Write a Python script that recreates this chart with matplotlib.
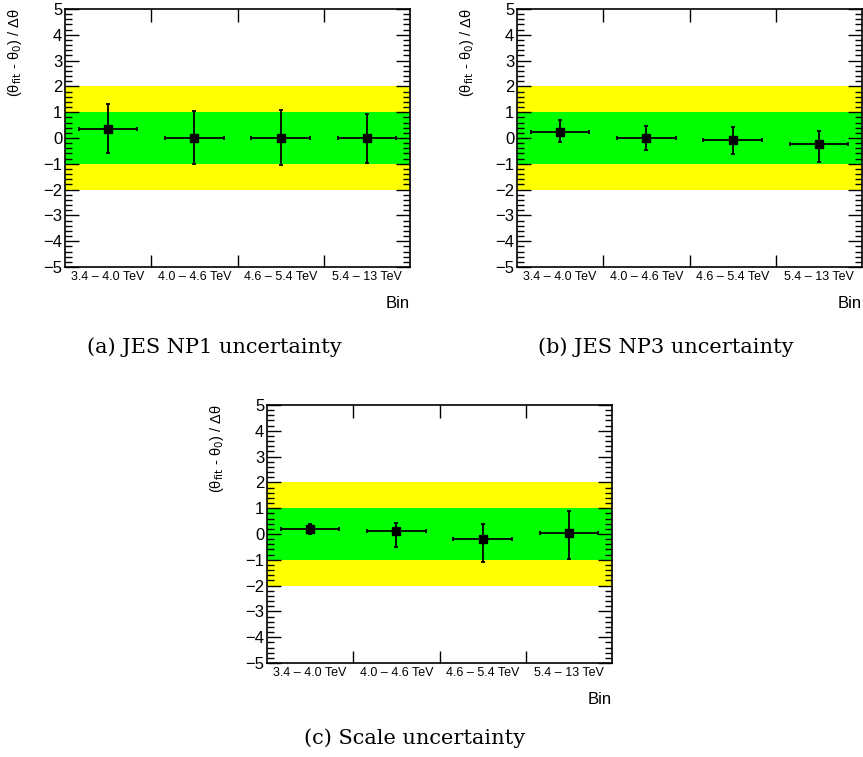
import matplotlib
matplotlib.use("Agg")
import matplotlib.pyplot as plt
from matplotlib.ticker import MultipleLocator, FixedLocator, NullFormatter
import numpy as np

plt.rcParams.update({"font.family": ["Liberation Sans", "DejaVu Sans"]})

bins = ["3.4 \u2013 4.0 TeV", "4.0 \u2013 4.6 TeV", "4.6 \u2013 5.4 TeV", "5.4 \u2013 13 TeV"]

# pull values and (down, up) errors per panel
np1_val = [0.35, 0.01, -0.01, -0.01]
np1_dn = [0.95, 1.03, 1.05, 0.96]
np1_up = [0.97, 1.04, 1.08, 0.95]

np3_val = [0.25, 0.00, -0.06, -0.24]
np3_dn = [0.42, 0.45, 0.55, 0.70]
np3_up = [0.43, 0.45, 0.47, 0.53]

scale_val = [0.20, 0.10, -0.21, 0.05]
scale_dn = [0.21, 0.62, 0.88, 1.01]
scale_up = [0.17, 0.31, 0.60, 0.86]

captions = ["(a) JES NP1 uncertainty", "(b) JES NP3 uncertainty", "(c) Scale uncertainty"]

W, H = 863, 757
fig = plt.figure(figsize=(W / 100, H / 100), dpi=100)


def panel(x0, y0, vals, dn, up):
    # x0, y0: top-left of axes frame in pixels
    w, h = 345, 258
    ax = fig.add_axes([x0 / W, 1 - (y0 + h) / H, w / W, h / H])
    x = np.arange(len(vals)) + 0.5
    ax.axhspan(-2, 2, color="#ffff00", lw=0, zorder=0)
    ax.axhspan(-1, 1, color="#00ff00", lw=0, zorder=1)
    ax.errorbar(x, vals, yerr=[dn, up], xerr=0.34, fmt="s", color="black",
                ms=5.5, elinewidth=1.3, capsize=1.5, capthick=1.3, zorder=3)
    ax.set_xlim(0, len(vals))
    ax.set_ylim(-5, 5)
    ax.yaxis.set_minor_locator(MultipleLocator(0.2))
    ax.set_yticks(range(-5, 6))
    ax.set_yticklabels([str(v).replace("-", "\u2212") for v in range(-5, 6)], fontsize=12)
    ax.xaxis.set_major_locator(FixedLocator([1, 2, 3]))
    ax.xaxis.set_major_formatter(NullFormatter())
    ax.xaxis.set_minor_locator(FixedLocator(x))
    ax.set_xticklabels(bins, minor=True, fontsize=9)
    ax.tick_params(axis="x", which="minor", length=0, pad=3)
    ax.tick_params(axis="x", which="major", direction="in", length=9, top=True, width=1)
    ax.tick_params(axis="y", which="major", direction="in", length=10, right=True,
                   width=1, pad=2)
    ax.tick_params(axis="y", which="minor", direction="in", length=5, right=True, width=1)
    for s in ax.spines.values():
        s.set_linewidth(1.2)
    ax.set_ylabel("(\u03b8$_{\\mathrm{fit}}$ - \u03b8$_{\\mathrm{0}}$) / \u0394\u03b8", fontsize=10.5,
                  loc="top", labelpad=14)
    ax.text(1.0, -0.14, "Bin", transform=ax.transAxes, ha="right", va="center", fontsize=12)
    return ax


panel(65, 9, np1_val, np1_dn, np1_up)
panel(517, 9, np3_val, np3_dn, np3_up)
panel(267, 405, scale_val, scale_dn, scale_up)

cap_kw = dict(ha="center", va="center", fontsize=15, family=["DejaVu Serif"])
fig.text(214 / W, 1 - 347 / H, captions[0], **cap_kw)
fig.text(666 / W, 1 - 347 / H, captions[1], **cap_kw)
fig.text(415 / W, 1 - 738 / H, captions[2], **cap_kw)

fig.savefig("out.png", dpi=100)
